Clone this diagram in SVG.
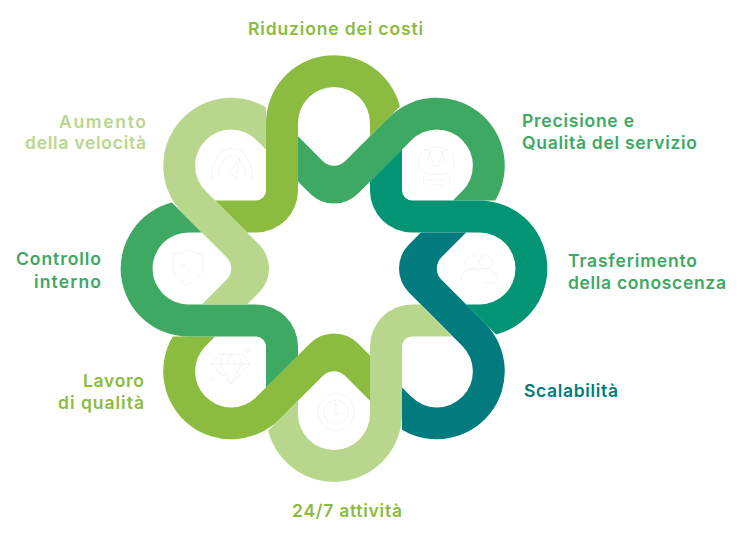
<svg xmlns="http://www.w3.org/2000/svg" width="750" height="538" viewBox="0 0 750 538">
<style>
.t{font-family:"Inter","Liberation Sans",sans-serif;font-weight:600;font-size:17.5px}
.i{fill:none;stroke:#dcdcdc;stroke-width:.7;stroke-dasharray:1 1.3}
.c1{fill:#8bbb3f}.c2{fill:#3da962}.c3{fill:#039375}.c4{fill:#017b7e}.c5{fill:#b8d78c}
</style>
<defs>
<path id="band" d="M399.9 106.4A68 68 0 0 0 266 123L266 190.5A10 10 0 0 1 256 200.5L215.1 200.5L247.1 232.5L256 232.5A42 42 0 0 0 298 190.5L298 123A36 36 0 0 1 370 123L370 136.3Z"/>
<path id="bandd" d="M399.9 106.4A68 68 0 0 0 266 123L266 184.5A16 16 0 0 1 250 200.5L215.1 200.5L247.1 232.5L264 232.5A34 34 0 0 0 298 198.5L298 123A36 36 0 0 1 370 123L370 136.3Z"/>
</defs>
<g id="node-riduzione">
<use href="#band" class="c1"/>
<text class="t c1" x="248" y="35" textLength="175" lengthAdjust="spacing">Riduzione dei costi</text>
</g>
<g id="node-precisione">
<use href="#bandd" class="c2" transform="rotate(45 334 268.5)"/>
<g class="i"><path d="M428 150q8-7 16 0q9-1 9 8q4 7-2 12q-6 6-14 4q-9 2-15-4q-5-6-2-12q0-9 8-8z"/><circle cx="436" cy="158" r="8"/><path d="M428 150l6 14M444 150l-6 14M424 176l-1 9M449 176l1 9M428 180h17M430 185h13"/></g>
<text class="t c2" x="522" y="127" textLength="112" lengthAdjust="spacing">Precisione e</text>
<text class="t c2" x="522" y="149" textLength="175" lengthAdjust="spacing">Qualità del servizio</text>
</g>
<g id="node-trasferimento">
<use href="#band" class="c3" transform="rotate(90 334 268.5)"/>
<g class="i"><circle cx="472" cy="262" r="6.500"/><circle cx="486" cy="262" r="6.500"/><path d="M461 284v-6q1-8 11-9q7 1 9 5M478 269q9-2 14 2q5 3 5 8M485 283h10"/></g>
<text class="t c2" x="568" y="267" textLength="129" lengthAdjust="spacing">Trasferimento</text>
<text class="t c2" x="568" y="289" textLength="158" lengthAdjust="spacing">della conoscenza</text>
</g>
<g id="node-scalabilita">
<use href="#bandd" class="c4" transform="rotate(135 334 268.5)"/>
<text class="t c4" x="524" y="397" textLength="94" lengthAdjust="spacing">Scalabilità</text>
</g>
<g id="node-attivita">
<use href="#band" class="c5" transform="rotate(180 334 268.5)"/>
<g class="i"><circle cx="336" cy="412" r="18"/><circle cx="336" cy="412" r="12"/><path d="M336 403v11h4"/></g>
<text class="t c1" x="292" y="517" textLength="110" lengthAdjust="spacing">24/7 attività</text>
</g>
<g id="node-lavoro">
<use href="#bandd" class="c1" transform="rotate(225 334 268.5)"/>
<g class="i"><path d="M220 354h22l8 10-19 20-20-20zM211 364h39M223 354l-3 10 11 20 11-20-3-10M231 354l-5 10M231 354l5 10"/><circle cx="247" cy="351" r="2"/><circle cx="212" cy="379" r="2"/></g>
<text class="t c1" x="83" y="387" textLength="61" lengthAdjust="spacing">Lavoro</text>
<text class="t c1" x="58" y="409" textLength="86" lengthAdjust="spacing">di qualità</text>
</g>
<g id="node-controllo">
<use href="#band" class="c2" transform="rotate(270 334 268.5)"/>
<g class="i"><path d="M173 254q8 0 14-5q8 5 16 5v13q-2 11-16 18q-13-7-14-18z"/><path d="M181 266q3-2 6 2l5 6"/></g>
<text class="t c2" x="16" y="265" textLength="85" lengthAdjust="spacing">Controllo</text>
<text class="t c2" x="34" y="287.500" textLength="67" lengthAdjust="spacing">interno</text>
</g>
<g id="node-aumento">
<use href="#bandd" class="c5" transform="rotate(315 334 268.5)"/>
<g class="i"><path d="M212 176a20 28 0 1 1 40 0"/><path d="M219 176a13 20 0 1 1 26 0"/><path d="M229 174l11-17-4 20z"/><path d="M212 176v3M252 176v3"/></g>
<text class="t c5" x="59" y="127.500" textLength="87" lengthAdjust="spacing">Aumento</text>
<text class="t c5" x="25" y="149" textLength="121" lengthAdjust="spacing">della velocità</text>
</g>
<g id="connectors"></g>
</svg>
